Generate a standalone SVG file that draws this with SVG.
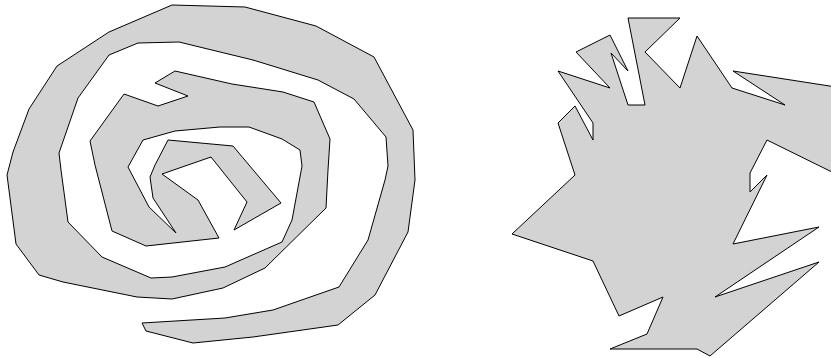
<svg xmlns="http://www.w3.org/2000/svg" width="831" height="358" viewBox="0 0 831 358">
<style>
.shape{fill:#d3d3d3;stroke:#000;stroke-width:1;stroke-linejoin:miter}
</style>
<rect width="831" height="358" fill="#fff"/>
<polygon id="spiral" class="shape" points="142,323 146,331 193,343 253,337 338,325 375,295 408,232 415,180 413,130 374,57 316,26 245,7 172,5 109,32 57,66 29,109 13,152 7,175 16,244 39,275 63,282 137,297 172,299 223,288 265,268 326,208 328,170 330,139 314,102 283,92 232,84 175,71 155,83 188,96 158,106 124,94 90,141 95,165 112,231 146,246 219,238 198,200 162,174 211,157 247,202 234,230 281,203 233,146 168,140 155,165 150,177 153,198 176,233 149,207 128,167 143,140 175,131 220,127 249,127 282,139 300,150 302,166 292,220 282,242 225,267 172,277 151,278 102,257 68,222 61,170 59,153 78,98 109,55 138,43 179,42 253,60 318,80 354,99 386,137 388,166 385,180 368,240 339,287 273,310 225,318"/>
<polygon id="star" class="shape" points="628,18 680,18 645,52 680,88 697,36 732,88 785,105 733,71 836,87 836,174 767,140 750,173 750,192 767,175 733,244 819,227 715,297 819,262 710,356 697,349 610,349 647,334 663,297 619,316 593,261 512,234 575,175 558,123 575,106 593,140 593,123 558,71 610,88 576,52 610,35 628,71 611,53 628,105 645,105"/>
</svg>
